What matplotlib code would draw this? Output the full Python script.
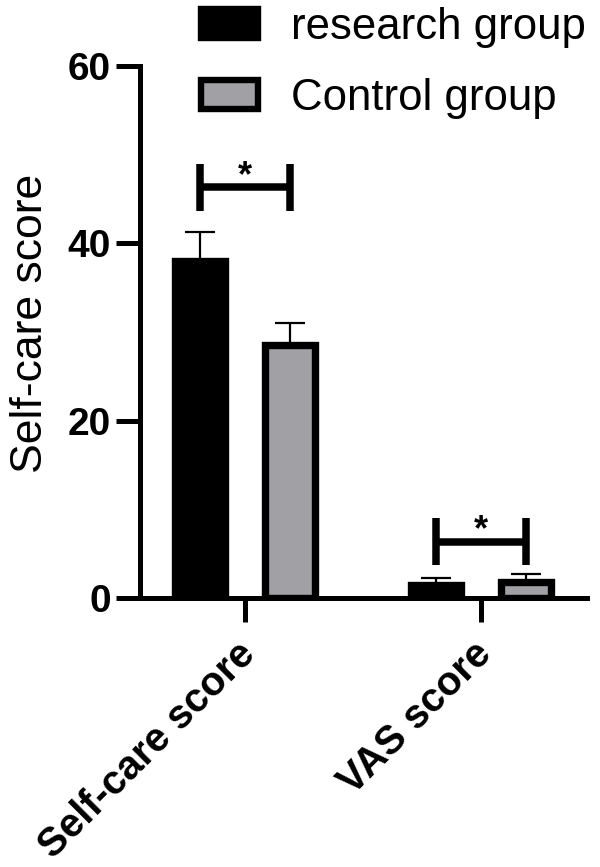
import matplotlib
matplotlib.use("Agg")
import matplotlib.pyplot as plt
import numpy as np
from matplotlib.patches import Patch
from matplotlib.transforms import ScaledTranslation

plt.rcParams['font.family'] = ['Liberation Sans', 'DejaVu Sans']

# ---- data ----
categories = ["Self-care score", "VAS score"]
series_names = ["research group", "Control group"]
research_mean = [38.0, 1.45]
research_sd = [3.3, 0.85]
control_mean = [28.5, 1.8]
control_sd = [2.5, 0.9]
sig_labels = ["*", "*"]
sig_line_y = [46.3, 6.35]
y_ticks = [0, 20, 40, 60]
y_label = "Self-care score"

# ---- styles ----
BLACK = "#000000"
GRAY = "#a0a0a5"
EDGE_LW = 5.3
SPINE_LW = 3.6

fig = plt.figure(figsize=(6.0, 8.67), dpi=100)
ax = fig.add_axes([140/600, 1-598/867, 447/600, (598-66)/867])

x = np.arange(len(categories))
off = 0.19
w = 0.212

ax.bar(x - off, research_mean, width=w, color=BLACK, edgecolor=BLACK,
       linewidth=EDGE_LW, zorder=3)
ax.bar(x + off, control_mean, width=w, color=GRAY, edgecolor=BLACK,
       linewidth=EDGE_LW, zorder=3)

ax.errorbar(x - off, research_mean,
            yerr=[np.zeros(len(x)), research_sd], fmt='none',
            ecolor=BLACK, elinewidth=1.6, capsize=10.5, capthick=1.6, zorder=2)
ax.errorbar(x + off, control_mean,
            yerr=[np.zeros(len(x)), control_sd], fmt='none',
            ecolor=BLACK, elinewidth=1.6, capsize=10.5, capthick=1.6, zorder=2)

# significance brackets
for xi, yl, lab in zip(x, sig_line_y, sig_labels):
    ax.plot([xi - off, xi + off], [yl, yl], color=BLACK, lw=5.4,
            solid_capstyle='butt', zorder=4, clip_on=False)
    for xe in (xi - off, xi + off):
        ax.plot([xe, xe], [yl - 2.65, yl + 2.65], color=BLACK, lw=5.4,
                solid_capstyle='butt', zorder=4, clip_on=False)
    ax.text(xi, yl + 0.2, lab, ha='center', va='baseline', fontsize=26,
            fontweight='bold', color=BLACK, zorder=5)

ax.set_xlim(-0.445, 1.449)
ax.set_ylim(0, 60)
ax.set_yticks(y_ticks)
ax.set_yticklabels([str(t) for t in y_ticks], fontsize=28, fontweight='bold')
ax.set_xticks(x)
ax.set_xticklabels([])
# category labels, rotated 45 degrees below each tick
lab_tr = ax.get_xaxis_transform() + ScaledTranslation(-9/100, -37/100,
                                                      fig.dpi_scale_trans)
for xi, cat in zip(x, categories):
    ax.text(xi, 0, cat, transform=lab_tr, fontsize=29, fontweight='bold',
            rotation=45, ha='right', va='top', rotation_mode='anchor')

ax.set_ylabel(y_label, fontsize=32)
ax.yaxis.set_label_coords(-0.199, 0.516)

for s in ('top', 'right'):
    ax.spines[s].set_visible(False)
for s in ('left', 'bottom'):
    ax.spines[s].set_linewidth(SPINE_LW)
ax.tick_params(axis='both', width=SPINE_LW, length=17, color=BLACK)
ax.tick_params(axis='y', pad=4)

handles = [Patch(facecolor=BLACK, edgecolor=BLACK, linewidth=4.6),
           Patch(facecolor=GRAY, edgecolor=BLACK, linewidth=4.6)]
fig.legend(handles, series_names, loc='upper left',
           bbox_to_anchor=(201/600, 1 - 7/867), frameon=False, fontsize=31.5,
           handlelength=1.3, handleheight=0.64, handletextpad=0.75,
           labelspacing=0.69, borderpad=0, borderaxespad=0)

fig.savefig("out.png", dpi=100)
